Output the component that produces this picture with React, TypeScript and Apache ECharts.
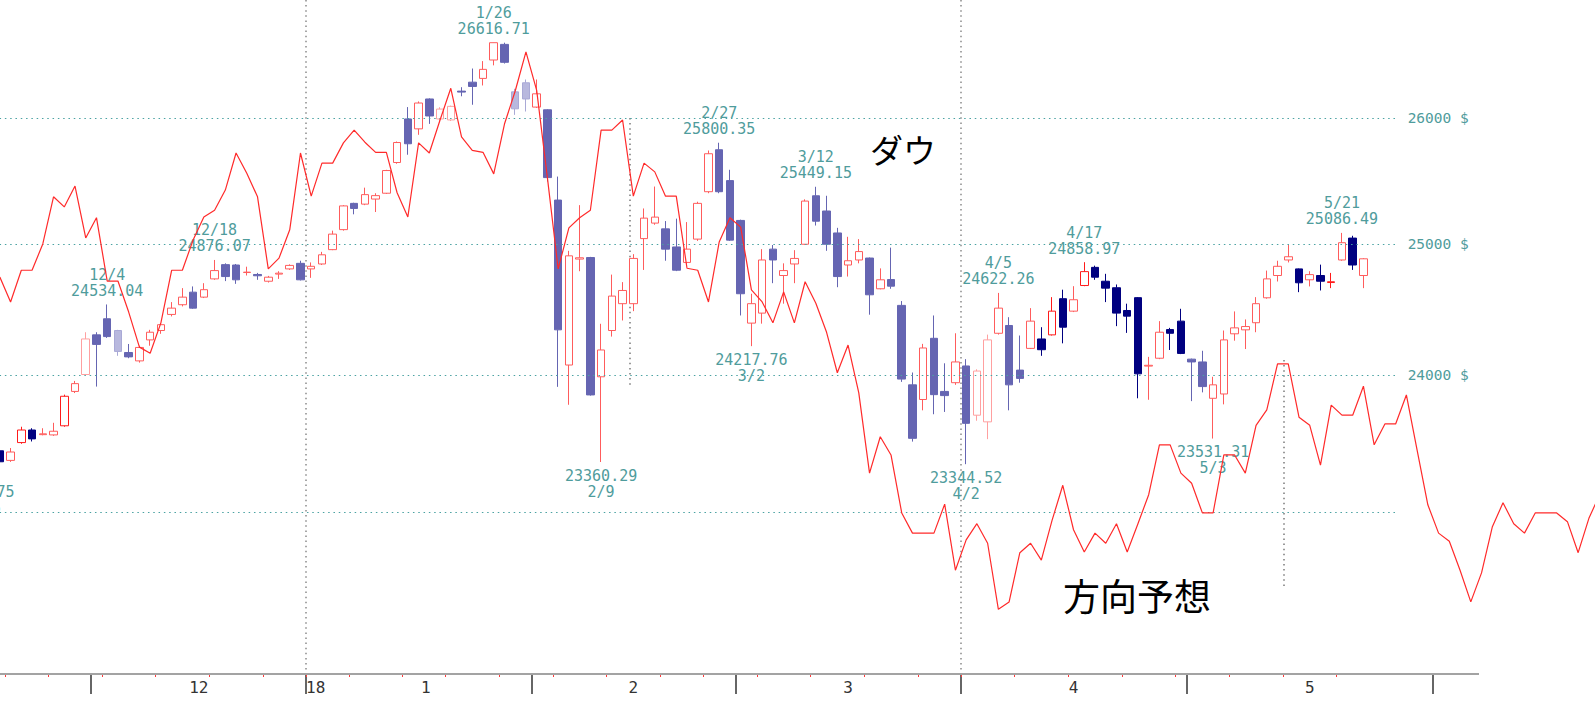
import React, { useEffect, useRef } from 'react';
import * as echarts from 'echarts';

// Trading-day categories (past) + projected weekdays (future)
const dates: string[] = [
  '2017-11-15','2017-11-16','2017-11-17','2017-11-20','2017-11-21','2017-11-22','2017-11-24','2017-11-27','2017-11-28','2017-11-29','2017-11-30',
  '2017-12-01','2017-12-04','2017-12-05','2017-12-06','2017-12-07','2017-12-08','2017-12-11','2017-12-12','2017-12-13','2017-12-14','2017-12-15',
  '2017-12-18','2017-12-19','2017-12-20','2017-12-21','2017-12-22','2017-12-26','2017-12-27','2017-12-28','2017-12-29',
  '2018-01-02','2018-01-03','2018-01-04','2018-01-05','2018-01-08','2018-01-09','2018-01-10','2018-01-11','2018-01-12','2018-01-16',
  '2018-01-17','2018-01-18','2018-01-19','2018-01-22','2018-01-23','2018-01-24','2018-01-25','2018-01-26','2018-01-29','2018-01-30','2018-01-31',
  '2018-02-01','2018-02-02','2018-02-05','2018-02-06','2018-02-07','2018-02-08','2018-02-09','2018-02-12','2018-02-13','2018-02-14',
  '2018-02-15','2018-02-16','2018-02-20','2018-02-21','2018-02-22','2018-02-23','2018-02-26','2018-02-27','2018-02-28',
  '2018-03-01','2018-03-02','2018-03-05','2018-03-06','2018-03-07','2018-03-08','2018-03-09','2018-03-12','2018-03-13','2018-03-14',
  '2018-03-15','2018-03-16','2018-03-19','2018-03-20','2018-03-21','2018-03-22','2018-03-23','2018-03-26','2018-03-27','2018-03-28','2018-03-29',
  '2018-04-02','2018-04-03','2018-04-04','2018-04-05','2018-04-06','2018-04-09','2018-04-10','2018-04-11','2018-04-12','2018-04-13',
  '2018-04-16','2018-04-17','2018-04-18','2018-04-19','2018-04-20','2018-04-23','2018-04-24','2018-04-25','2018-04-26','2018-04-27','2018-04-30',
  '2018-05-01','2018-05-02','2018-05-03','2018-05-04','2018-05-07','2018-05-08','2018-05-09','2018-05-10','2018-05-11',
  '2018-05-14','2018-05-15','2018-05-16','2018-05-17','2018-05-18','2018-05-21','2018-05-22','2018-05-23','2018-05-24','2018-05-25',
  '2018-05-28','2018-05-29','2018-05-30','2018-05-31',
  '2018-06-01','2018-06-04','2018-06-05','2018-06-06','2018-06-07','2018-06-08','2018-06-11','2018-06-12','2018-06-13','2018-06-14','2018-06-15',
  '2018-06-18','2018-06-19','2018-06-20','2018-06-21','2018-06-22',
];

// Dow daily candles: date, open, high, low, close, tone
const candles: [string, number, number, number, number, string][] = [
  ['2017-11-17', 23442, 23457, 23347, 23362, 'n'],
  ['2017-11-20', 23372, 23462, 23361, 23433, 'r'],
  ['2017-11-21', 23502, 23618, 23493, 23594, 'R'],
  ['2017-11-22', 23594, 23607, 23510, 23529, 'n'],
  ['2017-11-24', 23560, 23607, 23555, 23566, 'r'],
  ['2017-11-27', 23558, 23647, 23551, 23585, 'r'],
  ['2017-11-28', 23625, 23855, 23618, 23843, 'R'],
  ['2017-11-29', 23879, 23957, 23867, 23937, 'r'],
  ['2017-11-30', 24005, 24323, 24000, 24272, 'p'],
  ['2017-12-01', 24303, 24323, 23915, 24231, 's'],
  ['2017-12-04', 24425, 24534.04, 24280, 24290, 's'],
  ['2017-12-05', 24336, 24341, 24145, 24178, 'f'],
  ['2017-12-06', 24170, 24234, 24127, 24137, 's'],
  ['2017-12-07', 24107, 24221, 24094, 24208, 'r'],
  ['2017-12-08', 24265, 24341, 24221, 24323, 'r'],
  ['2017-12-11', 24336, 24392, 24311, 24380, 'r'],
  ['2017-12-12', 24458, 24552, 24443, 24506, 'r'],
  ['2017-12-13', 24532, 24659, 24519, 24590, 'r'],
  ['2017-12-14', 24628, 24672, 24501, 24506, 's'],
  ['2017-12-15', 24590, 24697, 24583, 24647, 'r'],
  ['2017-12-18', 24730, 24876.07, 24723, 24794, 'r'],
  ['2017-12-19', 24840, 24850, 24713, 24748, 's'],
  ['2017-12-20', 24837, 24845, 24692, 24723, 's'],
  ['2017-12-21', 24779, 24824, 24756, 24782, 'r'],
  ['2017-12-22', 24764, 24776, 24723, 24754, 's'],
  ['2017-12-26', 24712, 24753, 24702, 24743, 'r'],
  ['2017-12-27', 24767, 24789, 24730, 24774, 'r'],
  ['2017-12-28', 24807, 24842, 24799, 24834, 'r'],
  ['2017-12-29', 24850, 24870, 24718, 24723, 's'],
  ['2018-01-02', 24807, 24857, 24738, 24827, 'r'],
  ['2018-01-03', 24845, 24939, 24837, 24916, 'r'],
  ['2018-01-04', 24956, 25104, 24952, 25077, 'r'],
  ['2018-01-05', 25112, 25304, 25104, 25298, 'r'],
  ['2018-01-08', 25318, 25323, 25232, 25278, 's'],
  ['2018-01-09', 25312, 25442, 25304, 25387, 'r'],
  ['2018-01-10', 25352, 25398, 25250, 25379, 'r'],
  ['2018-01-11', 25398, 25584, 25392, 25578, 'r'],
  ['2018-01-12', 25642, 25810, 25632, 25802, 'r'],
  ['2018-01-16', 25992, 26088, 25704, 25792, 's'],
  ['2018-01-17', 25912, 26134, 25864, 26121, 'r'],
  ['2018-01-18', 26154, 26159, 25952, 26016, 's'],
  ['2018-01-19', 25992, 26087, 25970, 26072, 'p'],
  ['2018-01-22', 25984, 26100, 25975, 26094, 'p'],
  ['2018-01-23', 26218, 26250, 26176, 26210, 's'],
  ['2018-01-24', 26291, 26403, 26107, 26256, 's'],
  ['2018-01-25', 26322, 26464, 26264, 26396, 'r'],
  ['2018-01-26', 26473, 26616.71, 26429, 26616, 'r'],
  ['2018-01-29', 26602, 26616, 26444, 26454, 's'],
  ['2018-01-30', 26212, 26237, 26025, 26074, 'f'],
  ['2018-01-31', 26286, 26313, 26052, 26154, 'f'],
  ['2018-02-01', 26088, 26313, 26081, 26196, 'r'],
  ['2018-02-02', 26066, 26070, 25491, 25522, 's'],
  ['2018-02-05', 25344, 25530, 23913, 24341, 's'],
  ['2018-02-06', 24076, 24947, 23780, 24908, 'r'],
  ['2018-02-07', 24883, 25304, 24789, 24893, 'r'],
  ['2018-02-08', 24895, 24900, 23848, 23853, 's'],
  ['2018-02-09', 23988, 24387, 23360.29, 24189, 'r'],
  ['2018-02-12', 24336, 24763, 24290, 24598, 'r'],
  ['2018-02-13', 24540, 24705, 24412, 24641, 'r'],
  ['2018-02-14', 24540, 24921, 24483, 24888, 'r'],
  ['2018-02-15', 25042, 25278, 24799, 25202, 'r'],
  ['2018-02-16', 25163, 25451, 25150, 25210, 'r'],
  ['2018-02-20', 25118, 25179, 24870, 24960, 's'],
  ['2018-02-21', 24977, 25198, 24790, 24797, 's'],
  ['2018-02-22', 24857, 25171, 24845, 24960, 'r'],
  ['2018-02-23', 25038, 25331, 25024, 25318, 'r'],
  ['2018-02-26', 25410, 25738, 25398, 25712, 'r'],
  ['2018-02-27', 25744, 25800.35, 25398, 25410, 's'],
  ['2018-02-28', 25498, 25584, 25024, 25030, 's'],
  ['2018-03-01', 25184, 25190, 24450, 24616, 's'],
  ['2018-03-02', 24392, 24616, 24217.76, 24540, 'r'],
  ['2018-03-05', 24468, 24960, 24388, 24876, 'r'],
  ['2018-03-06', 24960, 24992, 24697, 24876, 's'],
  ['2018-03-07', 24756, 24850, 24540, 24794, 'r'],
  ['2018-03-08', 24845, 24952, 24697, 24888, 'r'],
  ['2018-03-09', 24998, 25350, 24992, 25336, 'r'],
  ['2018-03-12', 25378, 25449.15, 25144, 25178, 's'],
  ['2018-03-13', 25258, 25378, 24947, 24998, 's'],
  ['2018-03-14', 25086, 25126, 24666, 24748, 's'],
  ['2018-03-15', 24837, 25056, 24748, 24870, 'r'],
  ['2018-03-16', 24876, 25038, 24850, 24941, 'r'],
  ['2018-03-19', 24891, 24895, 24456, 24608, 's'],
  ['2018-03-20', 24654, 24811, 24650, 24723, 'r'],
  ['2018-03-21', 24725, 24972, 24654, 24674, 's'],
  ['2018-03-22', 24527, 24560, 23950, 23971, 's'],
  ['2018-03-23', 23928, 24020, 23509, 23533, 's'],
  ['2018-03-26', 23819, 24235, 23739, 24204, 'r'],
  ['2018-03-27', 24277, 24450, 23710, 23855, 's'],
  ['2018-03-28', 23879, 24089, 23727, 23848, 's'],
  ['2018-03-29', 23944, 24315, 23928, 24099, 'r'],
  ['2018-04-02', 24069, 24120, 23344.52, 23643, 's'],
  ['2018-04-03', 23703, 24044, 23662, 24031, 'p'],
  ['2018-04-04', 23654, 24305, 23527, 24265, 'p'],
  ['2018-04-05', 24315, 24622.26, 24305, 24506, 'r'],
  ['2018-04-06', 24374, 24437, 23739, 23928, 's'],
  ['2018-04-09', 24038, 24298, 23944, 23976, 's'],
  ['2018-04-10', 24201, 24506, 24196, 24407, 'r'],
  ['2018-04-11', 24272, 24361, 24145, 24191, 'n'],
  ['2018-04-12', 24303, 24590, 24298, 24483, 'R'],
  ['2018-04-13', 24578, 24647, 24239, 24361, 'n'],
  ['2018-04-16', 24483, 24674, 24476, 24570, 'r'],
  ['2018-04-17', 24679, 24858.97, 24674, 24786, 'R'],
  ['2018-04-18', 24819, 24832, 24723, 24743, 'n'],
  ['2018-04-19', 24712, 24769, 24552, 24659, 'n'],
  ['2018-04-20', 24662, 24687, 24369, 24468, 'n'],
  ['2018-04-23', 24488, 24540, 24318, 24445, 'n'],
  ['2018-04-24', 24586, 24590, 23828, 24010, 'n'],
  ['2018-04-25', 24068, 24137, 23817, 24074, 'r'],
  ['2018-04-26', 24127, 24407, 24120, 24323, 'r'],
  ['2018-04-27', 24343, 24356, 24189, 24315, 'n'],
  ['2018-04-30', 24407, 24501, 24158, 24163, 'n'],
  ['2018-05-01', 24120, 24124, 23807, 24099, 's'],
  ['2018-05-02', 24099, 24183, 23872, 23915, 's'],
  ['2018-05-03', 23828, 23988, 23531.31, 23928, 'r'],
  ['2018-05-04', 23860, 24336, 23783, 24265, 'r'],
  ['2018-05-07', 24311, 24481, 24259, 24356, 'r'],
  ['2018-05-08', 24341, 24420, 24196, 24366, 'r'],
  ['2018-05-09', 24395, 24590, 24323, 24540, 'r'],
  ['2018-05-10', 24585, 24794, 24578, 24730, 'r'],
  ['2018-05-11', 24756, 24870, 24710, 24827, 'r'],
  ['2018-05-14', 24876, 24992, 24857, 24901, 'r'],
  ['2018-05-15', 24807, 24810, 24628, 24700, 'n'],
  ['2018-05-16', 24723, 24789, 24672, 24763, 'r'],
  ['2018-05-17', 24756, 24840, 24641, 24712, 'n'],
  ['2018-05-18', 24702, 24776, 24659, 24708, 'R'],
  ['2018-05-21', 24876, 25086.49, 24870, 25010, 'r'],
  ['2018-05-22', 25046, 25064, 24799, 24837, 'n'],
  ['2018-05-23', 24756, 24890, 24659, 24885, 'r'],
];

// 方向予想 (direction forecast) index, 0-100 scale, aligned with dates
const direction: (number | null)[] = [
  null, null,
  58.9, 55.2, 59.9, 59.9, 63.8, 70.8, 69.3, 72.4, 64.7, 67.7,
  58.3, 58.3, 53.7, 48.5, 47.6, 52.1, 59.9, 59.9, 64.4, 67.8,
  68.8, 71.8, 77.3, 74.3, 70.8, 60.1, 61.7, 65.9, 77.3, 70.9,
  75.8, 75.8, 78.8, 80.7, 78.9, 77.4, 77.4, 71.4, 67.8, 78.8,
  77.3, 82.2, 86.9, 79.7, 77.7, 77.4, 74.2, 81.6, 86.5, 92.3,
  86.6, 73.6, 60.1, 66.2, 67.7, 68.8, 80.7, 80.7, 82.2, 70.9,
  75.8, 74.5, 70.9, 70.9, 60.2, 59.9, 55.2, 64.1, 67.7, 66.3,
  57.0, 55.2, 52.1, 56.7, 52.1, 58.2, 55.0, 50.7, 44.7, 48.8,
  41.7, 29.8, 35.2, 32.5, 23.9, 20.9, 20.9, 20.9, 25.2, 15.4,
  19.9, 22.3, 19.4, 9.6, 10.7, 18.0, 19.4, 16.9, 22.8, 28.0,
  21.4, 18.1, 20.9, 19.4, 22.3, 18.1, 22.3, 26.6, 34.0, 34.0,
  29.8, 28.3, 23.9, 23.9, 32.5, 32.5, 29.8, 36.9, 39.2, 46.0,
  46.0, 38.1, 36.9, 31.0, 39.9, 38.4, 38.4, 42.7, 34.0, 37.1,
  37.1, 41.4, 33.2, 25.1, 20.9, 19.7, 15.4, 10.7, 15.0, 21.8,
  25.4, 22.3, 20.9, 23.9, 23.9, 23.9, 22.6, 18.0, 23.1, 26.6,
];

// annotated extremes: date, label date, price
const highMarks: [string, string, number][] = [
  ['2017-12-04', '12/4', 24534.04],
  ['2017-12-18', '12/18', 24876.07],
  ['2018-01-26', '1/26', 26616.71],
  ['2018-02-27', '2/27', 25800.35],
  ['2018-03-12', '3/12', 25449.15],
  ['2018-04-05', '4/5', 24622.26],
  ['2018-04-17', '4/17', 24858.97],
  ['2018-05-21', '5/21', 25086.49],
];
const lowMarks: [string, string, number][] = [
  ['2017-11-15', '11/15', 23242.75],
  ['2018-02-09', '2/9', 23360.29],
  ['2018-03-02', '3/2', 24217.76],
  ['2018-04-02', '4/2', 23344.52],
  ['2018-05-03', '5/3', 23531.31],
];

const priceLevels = [26000, 25000, 24000, 23000];
const priceLabels = ['26000 $', '25000 $', '24000 $', ''];

const monthLabels: [string, string, string][] = [
  ['2017-12-15', '12', 'l5'],
  ['2018-01-02', '18', 'r4'],
  ['2018-01-18', '1', 'l3'],
  ['2018-02-14', '2', 'c'],
  ['2018-03-15', '3', 'c'],
  ['2018-04-16', '4', 'c'],
  ['2018-05-16', '5', 'c'],
];

const TEAL = '#4f9c9c';
const tones: Record<string, { stroke: string; fill: string }> = {
  r: { stroke: '#ff5c5c', fill: '#ffffff' },
  R: { stroke: '#ff1a1a', fill: '#ffffff' },
  p: { stroke: '#ffa0a0', fill: '#ffffff' },
  s: { stroke: '#6565b2', fill: '#6565b2' },
  n: { stroke: '#000080', fill: '#000080' },
  f: { stroke: '#a9a9d6', fill: '#b8b8de' },
};

export default function App() {
  const ref = useRef<HTMLDivElement>(null);

  useEffect(() => {
    if (!ref.current) return;
    const chart = echarts.init(ref.current, undefined, { renderer: 'svg' });
    const OFFSET = 27;

    const candleByDate: Record<string, any> = {};
    candles.forEach(([d, o, h, l, c, t]) => {
      const tone = tones[t];
      candleByDate[d] = {
        value: [o, c, l, h],
        itemStyle: {
          color: tone.fill,
          borderColor: tone.stroke,
          color0: tone.fill,
          borderColor0: tone.stroke,
        },
      };
    });
    const candleData = dates.map((d) => candleByDate[d] ?? '-');
    const lastCandleDate = candles[candles.length - 1][0];

    const dow = (s: string) => new Date(s + 'T00:00:00').getDay();
    const mon = (s: string) => Number(s.slice(5, 7));
    const monthTick = (i: number) => i > 0 && mon(dates[i]) !== mon(dates[i - 1]);
    const quarterTick = (i: number) => monthTick(i) && [1, 4, 7, 10].includes(mon(dates[i]));
    const weekTick = (i: number) =>
      i > 0 && dates[i] <= lastCandleDate && dow(dates[i]) < dow(dates[i - 1]);
    const labelMap: Record<string, [string, string]> = {};
    monthLabels.forEach(([d, t, s]) => (labelMap[d] = [t, s]));

    const labelFont = { fontFamily: '"DejaVu Sans Mono", monospace', fontSize: 15, color: TEAL };

    const markPoints = [
      ...highMarks.map(([d, lbl, v]) => ({
        coord: [d, v],
        name: `${lbl}\n${v.toFixed(2)}`,
        label: { position: 'top', distance: 5 },
      })),
      ...lowMarks.map(([d, lbl, v]) => ({
        coord: [d, v],
        name: `${v.toFixed(2)}\n${lbl}`,
        label: { position: 'bottom', distance: 5 },
      })),
    ];

    const gridLines = priceLevels.map((p, k) => [
      { coord: [dates[0], p] },
      {
        coord: ['2018-05-28', p],
        label: priceLabels[k]
          ? {
              show: true,
              position: 'end',
              distance: 12,
              formatter: priceLabels[k],
              fontFamily: '"DejaVu Sans Mono", monospace',
              fontSize: 14.5,
              color: TEAL,
            }
          : { show: false },
      },
    ]);

    const axisFont = { fontFamily: '"DejaVu Sans Mono", monospace', fontSize: 16, color: '#333' };

    chart.setOption({
      animation: false,
      backgroundColor: '#ffffff',
      grid: { left: 0, right: 0, top: 0, bottom: 35, containLabel: false },
      xAxis: [
        {
          type: 'category',
          data: dates,
          boundaryGap: true,
          axisLine: { show: false },
          axisTick: {
            show: true,
            interval: (i: number) => monthTick(i),
            length: 20,
            lineStyle: { color: '#333333', width: 1.5 },
          },
          axisLabel: {
            show: true,
            interval: (_i: number, v: string) => labelMap[v] !== undefined,
            formatter: (v: string) => (labelMap[v] ? `{${labelMap[v][1]}|${labelMap[v][0]}}` : ''),
            margin: 5,
            rich: {
              c: { ...axisFont },
              l5: { ...axisFont, padding: [0, 10, 0, 0] },
              l3: { ...axisFont, padding: [0, 7, 0, 0] },
              r4: { ...axisFont, padding: [0, 0, 0, 9] },
            },
          },
          splitLine: {
            show: true,
            interval: (i: number) => quarterTick(i),
            lineStyle: { color: '#8a8a8a', width: 1.5, type: [1.5, 3.6] },
          },
        },
        {
          type: 'category',
          data: dates,
          boundaryGap: true,
          position: 'bottom',
          axisLine: { show: false },
          axisTick: {
            show: true,
            interval: (i: number) => weekTick(i),
            length: 3,
            lineStyle: { color: '#ff3a3a', width: 1 },
          },
          axisLabel: { show: false },
          splitLine: { show: false },
        },
      ],
      yAxis: [
        { type: 'log', logBase: 10, min: 21869, max: 26972, show: false, splitLine: { show: false } },
        { type: 'value', min: 0, max: 100, show: false, splitLine: { show: false } },
      ],
      series: [
        {
          type: 'candlestick',
          xAxisIndex: 0,
          yAxisIndex: 0,
          data: candleData,
          barWidth: 8,
          itemStyle: { borderWidth: 1 },
          markLine: {
            silent: true,
            symbol: ['none', 'none'],
            lineStyle: { color: '#4aa2a2', width: 1.2, type: [1.5, 3.8] },
            label: { show: false },
            data: gridLines,
          },
          markPoint: {
            symbol: 'circle',
            symbolSize: 1,
            itemStyle: { color: 'rgba(0,0,0,0)' },
            label: { show: true, formatter: '{b}', lineHeight: 16, ...labelFont },
            data: markPoints,
          },
          z: 3,
        },
        {
          type: 'line',
          name: '方向予想',
          xAxisIndex: 0,
          yAxisIndex: 1,
          data: direction,
          symbol: 'none',
          lineStyle: { color: '#ff2a2a', width: 1.2 },
          z: 5,
        },
      ],
      graphic: [
        {
          type: 'line',
          shape: { x1: OFFSET, y1: 674, x2: 1479 + OFFSET, y2: 674 },
          style: { stroke: '#a3a3a3', lineWidth: 2 },
          z: 10,
        },
        {
          type: 'line',
          shape: { x1: 630 + OFFSET, y1: 118, x2: 630 + OFFSET, y2: 385 },
          style: { stroke: '#7a7a7a', lineWidth: 1.5, lineDash: [1.5, 3.6] },
        },
        {
          type: 'line',
          shape: { x1: 1284 + OFFSET, y1: 360, x2: 1284 + OFFSET, y2: 587 },
          style: { stroke: '#7a7a7a', lineWidth: 1.5, lineDash: [1.5, 3.6] },
        },
        {
          type: 'text',
          x: 870 + OFFSET,
          y: 132,
          style: { text: 'ダウ', fontSize: 33, fontFamily: '"Noto Sans CJK JP", sans-serif', fill: '#000', verticalAlign: 'top' },
          z: 20,
        },
        {
          type: 'text',
          x: 1063 + OFFSET,
          y: 576,
          style: { text: '方向予想', fontSize: 37, fontFamily: '"Noto Sans CJK JP", sans-serif', fill: '#000', verticalAlign: 'top' },
          z: 20,
        },
      ],
    });

    return () => chart.dispose();
  }, []);

  return (
    <div style={{ position: 'fixed', left: 0, top: 0, width: 1595, height: 709, overflow: 'hidden', background: '#fff' }}>
      <div ref={ref} style={{ position: 'absolute', left: -27, top: 0, width: 1632, height: 709 }} />
    </div>
  );
}
